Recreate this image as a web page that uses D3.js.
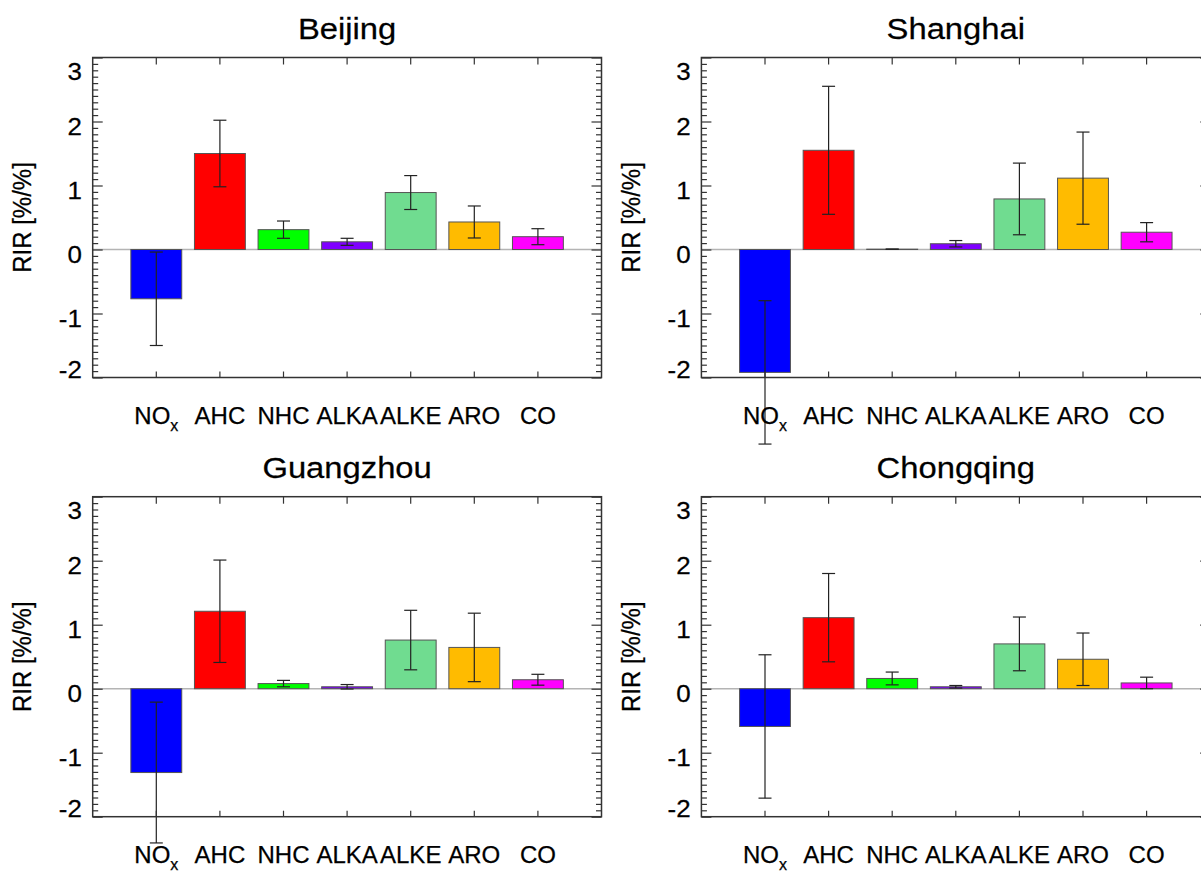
<!DOCTYPE html>
<html>
<head>
<meta charset="utf-8">
<script src="https://cdn.jsdelivr.net/npm/d3@7"></script>
<style>
  body { margin: 0; background: #fff; }
  svg text { font-family: "Liberation Sans", Arial, Helvetica, sans-serif; fill: #000; stroke: #000; stroke-width: 0.25px; }
</style>
</head>
<body>
<div id="chart"></div>
<script>
// --- DATA ---
const categories = ["NOx", "AHC", "NHC", "ALKA", "ALKE", "ARO", "CO"];
const cities = ["Beijing", "Shanghai", "Guangzhou", "Chongqing"];
const yTicks = [-2, -1, 0, 1, 2, 3];

const beijingRIR = [-0.77, 1.50, 0.31, 0.12, 0.89, 0.43, 0.20];
const beijingErr = [0.73, 0.52, 0.135, 0.055, 0.265, 0.25, 0.125];
const shanghaiRIR = [-1.92, 1.55, 0.005, 0.09, 0.79, 1.115, 0.27];
const shanghaiErr = [1.12, 1.00, 0.0, 0.05, 0.56, 0.72, 0.15];
const guangzhouRIR = [-1.31, 1.21, 0.08, 0.03, 0.76, 0.645, 0.14];
const guangzhouErr = [1.10, 0.80, 0.05, 0.035, 0.465, 0.535, 0.085];
const chongqingRIR = [-0.59, 1.11, 0.16, 0.03, 0.70, 0.46, 0.09];
const chongqingErr = [1.12, 0.69, 0.10, 0.02, 0.42, 0.41, 0.09];

const barColors = ["#0000ff", "#ff0000", "#00ff00", "#7f00ff", "#70dc90", "#ffbb00", "#ff00ff"];

const panels = [
    { city: cities[0], values: beijingRIR, errors: beijingErr },
    { city: cities[1], values: shanghaiRIR, errors: shanghaiErr },
    { city: cities[2], values: guangzhouRIR, errors: guangzhouErr },
    { city: cities[3], values: chongqingRIR, errors: chongqingErr }
];

// --- LAYOUT ---
const width = 1201, height = 873;
const plotW = 508.8, plotH = 320;
const lefts = [92.7, 701.4];
const tops = [57.5, 496.7];
const axisColor = "#333";

const svg = d3.select("#chart").append("svg")
    .attr("width", width)
    .attr("height", height);

const x = d3.scaleBand().domain(categories).range([0, plotW]).paddingInner(0.2).paddingOuter(0.6);
const y = d3.scaleLinear().domain([-2, 3]).range([plotH, 0]);
const minorTicks = d3.range(-20, 31).map(d => d / 10).filter(d => !yTicks.includes(d));

panels.forEach((p, i) => {
    const g = svg.append("g")
        .attr("transform", `translate(${lefts[i % 2]},${tops[Math.floor(i / 2)]})`);

    // title (slightly wide, like the original)
    g.append("text")
        .attr("transform", `translate(${plotW / 2},-19) scale(1.13,1)`)
        .attr("text-anchor", "middle")
        .style("font-size", "29px")
        .text(p.city);

    // zero line
    g.append("line")
        .attr("x1", 0).attr("x2", plotW)
        .attr("y1", y(0)).attr("y2", y(0))
        .attr("stroke", "#b4b4b4")
        .attr("stroke-width", 1.5);

    // bars
    g.selectAll("rect.bar")
        .data(categories)
        .join("rect")
        .attr("class", "bar")
        .attr("x", c => x(c))
        .attr("width", x.bandwidth())
        .attr("y", (c, j) => y(Math.max(0, p.values[j])))
        .attr("height", (c, j) => Math.abs(y(p.values[j]) - y(0)))
        .attr("fill", (c, j) => barColors[j])
        .attr("stroke", "#555")
        .attr("stroke-width", 1);

    // error bars
    const eb = g.selectAll("g.err")
        .data(categories)
        .join("g")
        .attr("class", "err")
        .attr("transform", c => `translate(${x(c) + x.bandwidth() / 2},0)`)
        .attr("stroke", "#222")
        .attr("stroke-width", 1.2);
    eb.append("line")
        .attr("y1", (c, j) => y(p.values[j] - p.errors[j]))
        .attr("y2", (c, j) => y(p.values[j] + p.errors[j]));
    eb.append("line")
        .attr("x1", -6.5).attr("x2", 6.5)
        .attr("y1", (c, j) => y(p.values[j] + p.errors[j]))
        .attr("y2", (c, j) => y(p.values[j] + p.errors[j]));
    eb.append("line")
        .attr("x1", -6.5).attr("x2", 6.5)
        .attr("y1", (c, j) => y(p.values[j] - p.errors[j]))
        .attr("y2", (c, j) => y(p.values[j] - p.errors[j]));

    const styleAxis = sel => {
        sel.select(".domain").remove();
        sel.selectAll(".tick line").attr("stroke", axisColor).attr("stroke-width", 1.2);
    };

    // left axis, major with labels (plain hyphen minus like the original)
    g.append("g")
        .call(d3.axisLeft(y).tickValues(yTicks).tickSize(-10).tickPadding(10).tickFormat(d => String(d)))
        .call(styleAxis)
        .call(a => a.selectAll(".tick text")
            .attr("dy", null)
            .attr("y", d => d === 3 ? 21.6 : d === -2 ? 0 : 12.5)
            .attr("transform", "scale(1.08,1)")
            .attr("fill", "#000")
            .style("font-size", "24px")
            .style("font-family", "'Liberation Sans', Arial, sans-serif"));
    g.append("g")
        .call(d3.axisLeft(y).tickValues(minorTicks).tickSize(-5.5).tickFormat(""))
        .call(styleAxis);

    // right axis
    g.append("g")
        .attr("transform", `translate(${plotW},0)`)
        .call(d3.axisRight(y).tickValues(yTicks).tickSize(-10).tickFormat(""))
        .call(styleAxis);
    g.append("g")
        .attr("transform", `translate(${plotW},0)`)
        .call(d3.axisRight(y).tickValues(minorTicks).tickSize(-5.5).tickFormat(""))
        .call(styleAxis);

    // top and bottom axes
    g.append("g")
        .call(d3.axisTop(x).tickSize(-7).tickFormat(""))
        .call(styleAxis);
    g.append("g")
        .attr("transform", `translate(0,${plotH})`)
        .call(d3.axisBottom(x).tickSize(-6).tickFormat(""))
        .call(styleAxis);

    // frame
    g.append("rect")
        .attr("width", plotW)
        .attr("height", plotH)
        .attr("fill", "none")
        .attr("stroke", axisColor)
        .attr("stroke-width", 1.5);

    // category labels
    const lab = g.selectAll("text.cat")
        .data(categories)
        .join("text")
        .attr("class", "cat")
        .attr("x", c => x(c) + x.bandwidth() / 2)
        .attr("y", plotH + 46)
        .attr("text-anchor", "middle")
        .style("font-size", "24px");
    lab.each(function (c) {
        const t = d3.select(this);
        if (c === "NOx") {
            t.append("tspan").text("NO");
            t.append("tspan").attr("dy", 7).style("font-size", "16px").text("x");
        } else {
            t.text(c);
        }
    });

    // y axis title
    g.append("text")
        .attr("transform", `translate(${-lefts[0] + 31},${plotH / 2}) rotate(-90) scale(1,1.08)`)
        .attr("text-anchor", "middle")
        .style("font-size", "24px")
        .text("RIR [%/%]");
});
</script>
</body>
</html>
